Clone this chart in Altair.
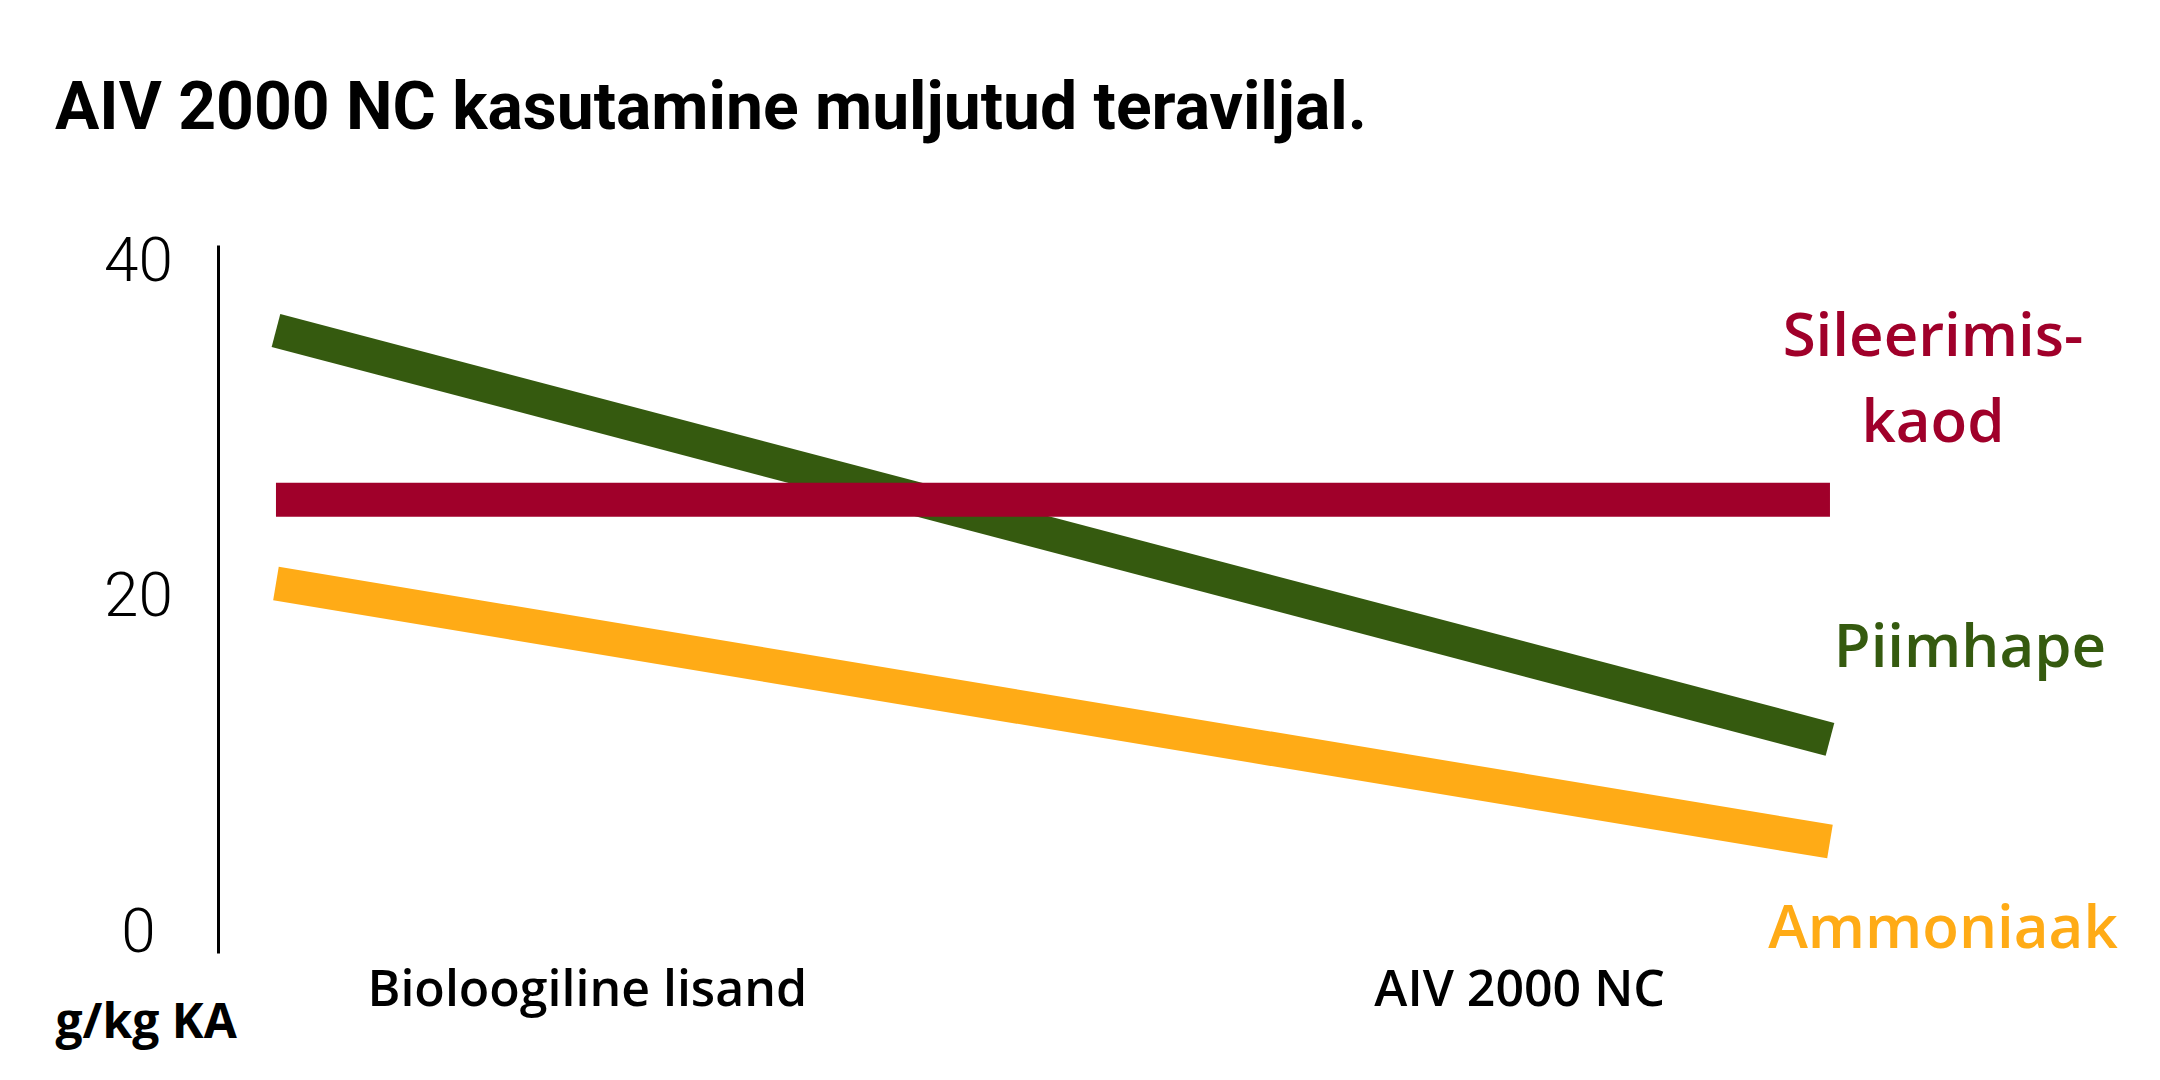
# %% Imports

import altair as alt
import pandas as pd

# %% Data

categories = ["Bioloogiline lisand", "AIV 2000 NC"]
series = ["Ammoniaak", "Piimhape", "Sileerimiskaod"]
ammoniaak = [20.8, 5.4]
piimhape = [35.9, 11.5]
sileerimiskaod = [25.8, 25.8]
end_labels = ["Ammoniaak", "Piimhape", "Sileerimis-\nkaod"]
colors = ["#ffab16", "#355a0f", "#a0002a"]
y_ticks = [0, 20, 40]

values = {"Ammoniaak": ammoniaak, "Piimhape": piimhape, "Sileerimiskaod": sileerimiskaod}

rows = []
for s in series:
    for i, cat in enumerate(categories):
        rows.append({"series": s, "idx": i, "category": cat, "value": values[s][i]})
data = pd.DataFrame(rows)

# %% Chart

x_scale = alt.Scale(domain=[-0.0373, 1.1995], nice=False, zero=False)
y_scale = alt.Scale(domain=[-1.25, 41], nice=False, zero=False)

label_expr = f"datum.value < 0.5 ? '{categories[0]}' : '{categories[1]}'"

base = alt.Chart(data).encode(
    x=alt.X(
        "idx:Q",
        scale=x_scale,
        axis=alt.Axis(
            values=[0.2, 0.8],
            labelExpr=label_expr,
            domain=False,
            ticks=False,
            grid=False,
            labelFont="Open Sans",
            labelFontWeight=600,
            labelFontSize=50,
            labelColor="black",
            labelPadding=12,
            labelLimit=1000,
            labelOverlap=False,
            title=None,
        ),
    ),
    y=alt.Y(
        "value:Q",
        scale=y_scale,
        axis=alt.Axis(
            values=y_ticks,
            domainColor="black",
            domainWidth=3,
            ticks=False,
            grid=False,
            labelFont="Roboto",
            labelFontWeight=300,
            labelFontSize=62,
            labelColor="black",
            labelAlign="center",
            labelPadding=80,
            title="g/kg KA",
            titleAngle=0,
            titleAlign="left",
            titleBaseline="middle",
            titleX=-163,
            titleY=778,
            titleFont="Open Sans",
            titleFontWeight=700,
            titleFontSize=48,
            titleColor="black",
        ),
    ),
)

layers = []
for s, col in zip(series, colors):
    layers.append(
        base.transform_filter(alt.datum.series == s).mark_line(
            color=col, strokeWidth=34, strokeCap="butt"
        )
    )

# label offsets next to the line ends
offsets = {"Ammoniaak": (113, 88), "Piimhape": (140, -90), "Sileerimiskaod": (103, -162)}
for s, lab, col in zip(series, end_labels, colors):
    dx, dy = offsets[s]
    layers.append(
        base.transform_filter((alt.datum.series == s) & (alt.datum.idx == 1))
        .transform_calculate(label=f"'{lab}'".replace("\n", "\\n"))
        .mark_text(
            color=col,
            font="Open Sans",
            fontWeight=600,
            fontSize=60,
            align="center",
            baseline="middle",
            dx=dx,
            dy=dy,
            lineBreak="\n",
            lineHeight=86,
        )
        .encode(text="label:N")
    )

chart = (
    alt.layer(*layers)
    .properties(
        width=1922,
        height=708,
        autosize=alt.AutoSizeParams(type="none"),
        padding={"left": 210, "top": 237, "right": 12, "bottom": 119},
        title=alt.TitleParams(
            "AIV 2000 NC kasutamine muljutud teraviljal.",
            anchor="start",
            frame="group",
            dx=-163,
            offset=88,
            font="Roboto",
            fontWeight="bold",
            fontSize=66,
            color="black",
        ),
    )
    .configure_view(stroke=None)
)

chart.save("out.html", embed_options={"renderer": "svg", "actions": False})
